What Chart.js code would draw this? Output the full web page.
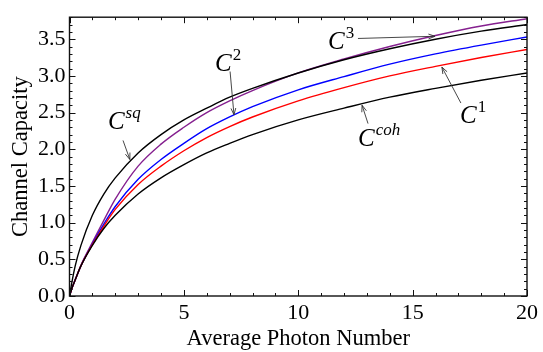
<!DOCTYPE html>
<html><head><meta charset="utf-8">
<script src="https://cdn.jsdelivr.net/npm/chart.js@4.4.1/dist/chart.umd.min.js"></script>
<style>html,body{margin:0;padding:0;background:#fff;}canvas{display:block;}</style>
</head><body>
<canvas id="c" width="543" height="352"></canvas>
<script>
// Average photon number samples
const photonN = [0, 0.1, 0.25, 0.5, 1, 1.5, 2, 3, 4, 5, 6, 7, 8, 10, 12, 14, 16, 18, 20];
// Curves
const capCoh = [0, 0.10, 0.22, 0.41, 0.69, 0.92, 1.10, 1.39, 1.61, 1.79, 1.95, 2.08, 2.20, 2.40, 2.56, 2.71, 2.83, 2.94, 3.04];
const capSq  = [0, 0.18, 0.41, 0.69, 1.10, 1.39, 1.61, 1.95, 2.20, 2.40, 2.56, 2.71, 2.83, 3.04, 3.22, 3.37, 3.50, 3.61, 3.70];
const capC1  = [0, 0.10, 0.22, 0.41, 0.70, 0.95, 1.18, 1.52, 1.77, 1.98, 2.16, 2.31, 2.44, 2.66, 2.84, 3.00, 3.13, 3.25, 3.36];
const capC2  = [0, 0.10, 0.22, 0.41, 0.71, 0.98, 1.22, 1.59, 1.86, 2.08, 2.28, 2.44, 2.58, 2.81, 2.99, 3.16, 3.30, 3.42, 3.53];
const capC3  = [0, 0.10, 0.22, 0.42, 0.73, 1.03, 1.32, 1.77, 2.07, 2.30, 2.50, 2.66, 2.80, 3.04, 3.23, 3.40, 3.55, 3.68, 3.78];
// Ticks
const xTicks = [0, 5, 10, 15, 20];
const xTickLabels = ['0', '5', '10', '15', '20'];
const yTicks = [0, 0.5, 1, 1.5, 2, 2.5, 3, 3.5];
const yTickLabels = ['0.0', '0.5', '1.0', '1.5', '2.0', '2.5', '3.0', '3.5'];
const xMinorStep = 1, yMinorStep = 0.1;
const xRange = [0, 20], yRange = [0, 3.8];
// Annotations: base, superscript, italic superscript, text anchor (data), arrow from, arrow to
const annBase = ['C', 'C', 'C', 'C', 'C'];
const annSup = ['sq', '2', '3', '1', 'coh'];
const annSupItalic = [true, false, false, false, true];
const annText = [[1.68, 2.27], [6.36, 3.07], [11.30, 3.37], [17.07, 2.36], [12.61, 2.05]];
const annFrom = [[2.34, 2.12], [7.02, 3.06], [12.61, 3.51], [17.11, 2.63], [13.05, 2.35]];
const annTo = [[2.64, 1.86], [7.19, 2.47], [15.98, 3.54], [16.28, 3.12], [12.79, 2.60]];

const serif = '"Liberation Serif", "DejaVu Serif", serif';
const mk = (ys) => photonN.map((x, i) => ({x, y: ys[i]}));

const framePlugin = {
  id: 'frame',
  afterDatasetsDraw(chart) {
    const {ctx, chartArea: a, scales: {x, y}} = chart;
    ctx.save();
    ctx.strokeStyle = '#111';
    ctx.lineWidth = 1;
    ctx.beginPath();
    for (let v = xRange[0]; v <= xRange[1] + 1e-9; v += xMinorStep) {
      const px = Math.round(x.getPixelForValue(v)) + 0.5;
      const major = xTicks.some(t => Math.abs(t - v) < 1e-6);
      const L = major ? 6 : 3;
      ctx.moveTo(px, a.bottom); ctx.lineTo(px, a.bottom - L);
      ctx.moveTo(px, a.top); ctx.lineTo(px, a.top + L);
    }
    for (let k = 0; k * yMinorStep <= yRange[1] + 1e-9; k++) {
      const v = k * yMinorStep;
      const py = Math.round(y.getPixelForValue(v)) + 0.5;
      const major = yTicks.some(t => Math.abs(t - v) < 1e-6);
      const L = major ? 6 : 3;
      ctx.moveTo(a.left, py); ctx.lineTo(a.left + L, py);
      ctx.moveTo(a.right, py); ctx.lineTo(a.right - L, py);
    }
    ctx.stroke();
    ctx.lineWidth = 1.4;
    ctx.strokeRect(a.left, a.top, a.right - a.left, a.bottom - a.top);

    // annotations
    ctx.fillStyle = '#000';
    ctx.textBaseline = 'alphabetic';
    ctx.textAlign = 'left';
    for (let i = 0; i < annBase.length; i++) {
      const tx = x.getPixelForValue(annText[i][0]);
      const ty = y.getPixelForValue(annText[i][1]);
      ctx.font = 'italic 25px ' + serif;
      ctx.fillText(annBase[i], tx, ty);
      const w = ctx.measureText(annBase[i]).width;
      ctx.font = (annSupItalic[i] ? 'italic ' : '') + '17px ' + serif;
      ctx.fillText(annSup[i], tx + w + 1, ty - 11);
      // arrow
      const fx = x.getPixelForValue(annFrom[i][0]), fy = y.getPixelForValue(annFrom[i][1]);
      const ex = x.getPixelForValue(annTo[i][0]), ey = y.getPixelForValue(annTo[i][1]);
      ctx.strokeStyle = '#333';
      ctx.lineWidth = 0.9;
      ctx.beginPath();
      ctx.moveTo(fx, fy); ctx.lineTo(ex, ey);
      const ang = Math.atan2(ey - fy, ex - fx);
      const hl = 7, ha = 0.35;
      ctx.moveTo(ex - hl * Math.cos(ang - ha), ey - hl * Math.sin(ang - ha));
      ctx.lineTo(ex, ey);
      ctx.lineTo(ex - hl * Math.cos(ang + ha), ey - hl * Math.sin(ang + ha));
      ctx.stroke();
    }
    ctx.restore();
  }
};

const ds = (data, color) => ({data: mk(data), borderColor: color, borderWidth: 1.4, pointRadius: 0, fill: false, cubicInterpolationMode: 'monotone'});

new Chart(document.getElementById('c'), {
  type: 'line',
  data: {
    datasets: [
      ds(capCoh, '#000000'),
      ds(capSq, '#000000'),
      ds(capC1, '#ff0000'),
      ds(capC2, '#0000ff'),
      ds(capC3, '#85208f')
    ]
  },
  options: {
    responsive: false,
    animation: false,
    devicePixelRatio: 1,
    layout: {padding: {top: 13, right: 16, left: 0, bottom: 0}},
    plugins: {legend: {display: false}, tooltip: {enabled: false}},
    scales: {
      x: {
        type: 'linear', min: xRange[0], max: xRange[1],
        grid: {display: false, drawTicks: false}, border: {display: false},
        afterBuildTicks: s => { s.ticks = xTicks.map(v => ({value: v})); },
        afterFit: s => { s.height = 56; },
        ticks: {color: '#000', padding: 4, maxRotation: 0, font: {family: serif, size: 22},
                callback: (v) => xTickLabels[xTicks.indexOf(v)]},
        title: {display: true, text: 'Average Photon Number', color: '#000',
                font: {family: serif, size: 22.5, lineHeight: 1}, padding: {top: 0, bottom: 1.3}}
      },
      y: {
        type: 'linear', min: yRange[0], max: yRange[1],
        grid: {display: false, drawTicks: false}, border: {display: false},
        afterBuildTicks: s => { s.ticks = yTicks.map(v => ({value: v})); },
        afterFit: s => { s.width = 69.5; },
        ticks: {color: '#000', padding: 4, font: {family: serif, size: 22},
                callback: (v) => yTickLabels[yTicks.indexOf(v)]},
        title: {display: true, text: 'Channel Capacity', color: '#000',
                font: {family: serif, size: 22.5, lineHeight: 1}, padding: {top: 9.5, bottom: 0}}
      }
    }
  },
  plugins: [framePlugin]
});
</script>
</body></html>
